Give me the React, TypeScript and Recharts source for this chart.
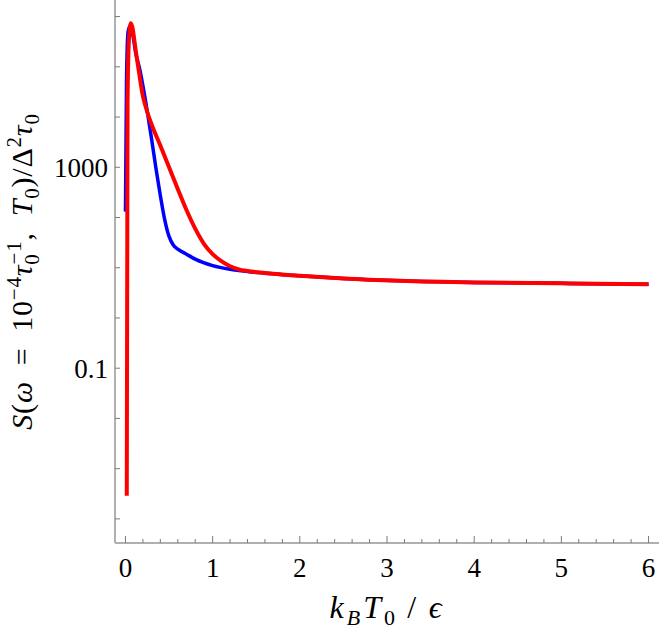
import { LineChart, Line, XAxis, YAxis, Label } from "recharts";

// values (x = k_B T0 / eps, y = S on a log axis)
const BLUE_X = [0, 0.012, 0.03, 0.055, 0.085, 0.12, 0.166, 0.2, 0.25, 0.3, 0.35, 0.4, 0.45, 0.5, 0.55, 0.6, 0.7, 0.8, 1.0, 1.2, 1.4, 1.6, 2.0, 2.5, 3.15, 4, 5, 6];
const BLUE_S = [131, 5.0e4, 5.0e5, 6.6e5, 4.2e5, 1.8e5, 8.6e4, 4.2e4, 1.3e4, 3600, 950, 275, 91, 42, 28, 23.4, 18.6, 14.8, 11, 9.3, 8.4, 7.8, 6.9, 6.1, 5.5, 5.1, 4.9, 4.7];

const RED_X = [0.015, 0.024, 0.04, 0.062, 0.128, 0.2, 0.25, 0.3, 0.4, 0.5, 0.6, 0.7, 0.8, 0.9, 1.0, 1.1, 1.2, 1.3, 1.4, 1.6, 1.8, 2.0, 2.5, 3.15, 4, 5, 6];
const RED_S = [2.9e-4, 2.0e4, 3.5e5, 7.4e5, 1.6e5, 2.6e4, 1.26e4, 7100, 2700, 1000, 370, 141, 60, 30, 18.6, 13.5, 10.7, 9.3, 8.6, 7.85, 7.3, 6.9, 6.1, 5.5, 5.1, 4.9, 4.7];

const X_TICKS = Array.from({ length: 31 }, (_, i) => i / 5);
const Y_TICKS = [1e-4, 1e-3, 0.01, 0.1, 1, 10, 100, 1000, 1e4, 1e5, 1e6];
const Y_LABELS: Record<string, string> = { "0.1": "0.1", "1000": "1000" };

const blueData = BLUE_X.map((x, i) => ({ x, s: BLUE_S[i] }));
const redData = RED_X.map((x, i) => ({ x, s: RED_S[i] }));

const FONT = '"Liberation Serif", "Times New Roman", Times, "DejaVu Serif", serif';
const FRAME = "#b0b0b0";
const TICK = "#7a7a7a";
const txt = { fontFamily: FONT, fontSize: 27 };

const BottomTick = ({ x, y, payload }: any) => {
  const major = Number.isInteger(payload.value);
  return (
    <g>
      <line x1={x} x2={x} y1={y} y2={y - (major ? 7 : 4)} stroke={TICK} strokeWidth={1} />
      {major && (
        <text x={x} y={y + 34} textAnchor="middle" style={txt} fill="#000">
          {payload.value}
        </text>
      )}
    </g>
  );
};

const TopTick = ({ x, y, payload }: any) => {
  const major = Number.isInteger(payload.value);
  return <line x1={x} x2={x} y1={y} y2={y + (major ? 7 : 4)} stroke={TICK} strokeWidth={1} />;
};

const LeftTick = ({ x, y, payload }: any) => {
  const label = Y_LABELS[String(payload.value)];
  return (
    <g>
      <line x1={x} x2={x + 5} y1={y} y2={y} stroke={TICK} strokeWidth={1} />
      {label && (
        <text x={x - 7} y={y + 9.5} textAnchor="end" style={txt} fill="#000">
          {label}
        </text>
      )}
    </g>
  );
};

const RightTick = ({ x, y }: any) => <line x1={x} x2={x - 5} y1={y} y2={y} stroke={TICK} strokeWidth={1} />;

const XTitle = ({ viewBox }: any) => (
  <text x={viewBox.x + viewBox.width / 2} y={viewBox.y + 75} textAnchor="middle"
    style={{ fontFamily: FONT, fontSize: 32, letterSpacing: 3 }} fill="#000">
    <tspan fontStyle="italic">k</tspan>
    <tspan dy={7} fontSize={22} fontStyle="italic">B</tspan>
    <tspan dy={-7} fontStyle="italic">T</tspan>
    <tspan dy={7} fontSize={22}>0</tspan>
    <tspan dy={-7}>{"\u2009/\u2009"}</tspan>
    <tspan fontStyle="italic">ϵ</tspan>
  </text>
);

const YTitle = ({ viewBox }: any) => {
  const cx = viewBox.x + 32;
  const cy = viewBox.y + viewBox.height / 2;
  return (
    <text transform={`translate(${cx},${cy}) rotate(-90)`} textAnchor="middle"
      style={{ fontFamily: FONT, fontSize: 30, letterSpacing: 0.8 }} fill="#000">
      <tspan fontStyle="italic">S</tspan>
      <tspan>(</tspan>
      <tspan fontStyle="italic">ω</tspan>
      <tspan>{"\u2002=\u200210"}</tspan>
      <tspan dy={-11} fontSize={21}>−4</tspan>
      <tspan dy={11} fontStyle="italic">τ</tspan>
      <tspan dy={7} fontSize={21}>0</tspan>
      <tspan dx={-11} dy={-18} fontSize={21}>−1</tspan>
      <tspan dy={11}>{",\u2002"}</tspan>
      <tspan fontStyle="italic">T</tspan>
      <tspan dy={7} fontSize={21}>0</tspan>
      <tspan dy={-7}>)/Δ</tspan>
      <tspan dy={-11} fontSize={21}>2</tspan>
      <tspan dy={11} fontStyle="italic">τ</tspan>
      <tspan dy={7} fontSize={21}>0</tspan>
    </text>
  );
};

export default function App() {
  return (
    <div style={{ position: "absolute", left: 0, top: 0, width: 664, height: 633, background: "#fff", fontFamily: FONT }}>
      <LineChart width={664} height={633} margin={{ top: 0, right: 5, bottom: 0, left: 0 }}>
        <XAxis xAxisId="b" type="number" dataKey="x" domain={[-0.12, 6.12]} allowDataOverflow ticks={X_TICKS}
          interval={0} height={90} tickSize={0} tickMargin={0} tickLine={false} tick={<BottomTick />}
          axisLine={{ stroke: FRAME, strokeWidth: 2 }}>
          <Label content={<XTitle />} />
        </XAxis>
        <XAxis xAxisId="t" orientation="top" type="number" dataKey="x" domain={[-0.12, 6.12]} allowDataOverflow ticks={X_TICKS}
          interval={0} height={0} tickSize={0} tickMargin={0} tickLine={false} tick={<TopTick />}
          axisLine={{ stroke: FRAME, strokeWidth: 2 }} />
        <YAxis yAxisId="l" scale="log" type="number" domain={[Math.pow(10, -4.48), Math.pow(10, 6.33)]} allowDataOverflow
          ticks={Y_TICKS} interval={0} width={115} tickSize={0} tickMargin={0} tickLine={false} tick={<LeftTick />}
          axisLine={{ stroke: FRAME, strokeWidth: 2 }}>
          <Label content={<YTitle />} />
        </YAxis>
        <YAxis yAxisId="r" orientation="right" scale="log" type="number" domain={[Math.pow(10, -4.48), Math.pow(10, 6.33)]} allowDataOverflow
          ticks={Y_TICKS} interval={0} width={0} tickSize={0} tickMargin={0} tickLine={false} tick={<RightTick />}
          axisLine={{ stroke: FRAME, strokeWidth: 2 }} />
        <Line xAxisId="b" yAxisId="l" data={blueData} dataKey="s" type="monotone" stroke="#0000ff" strokeWidth={3.5}
          dot={false} isAnimationActive={false} />
        <Line xAxisId="b" yAxisId="l" data={redData} dataKey="s" type="monotone" stroke="#ff0000" strokeWidth={4}
          dot={false} isAnimationActive={false} />
      </LineChart>
    </div>
  );
}
